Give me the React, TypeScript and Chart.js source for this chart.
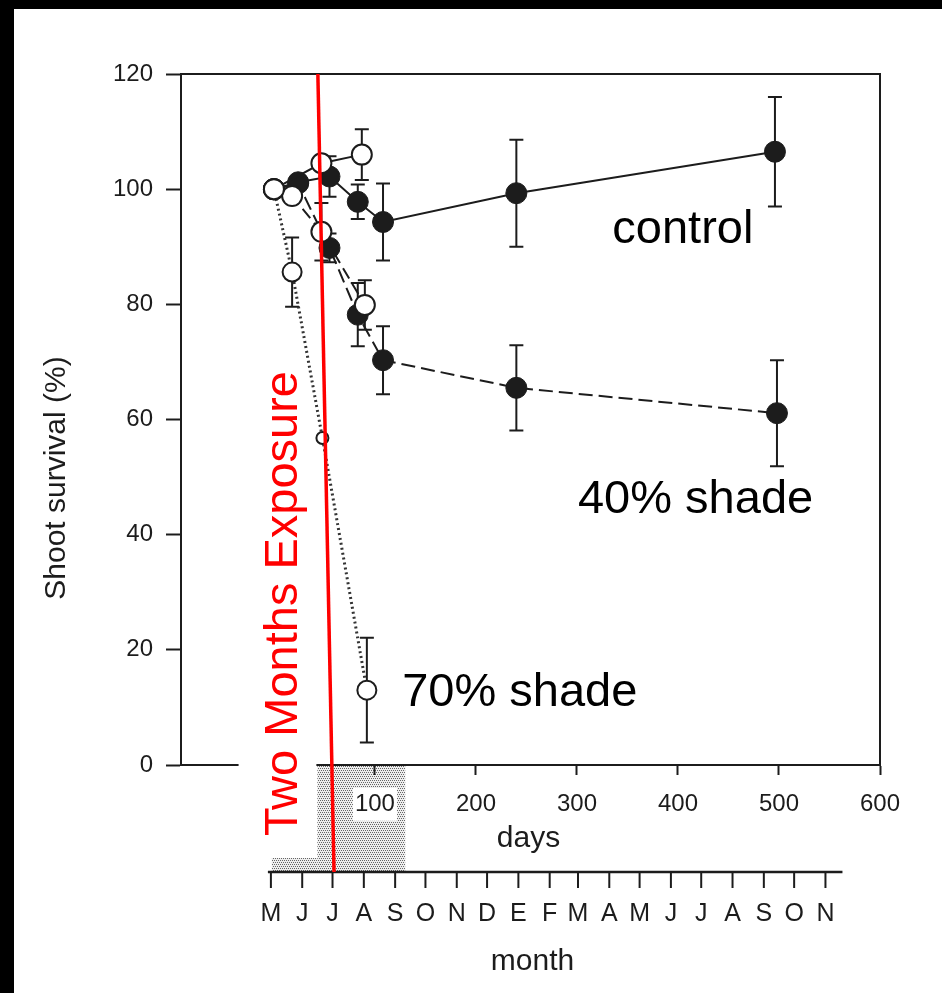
import React, { useEffect, useRef } from 'react';
import { Chart, registerables } from 'chart.js';

Chart.register(...registerables);

// ---- data (days since start, shoot survival %) ----
const controlDays = [0, 24, 55, 83, 108, 240, 496];
const controlValues = [100, 101.2, 102.2, 97.8, 94.3, 99.3, 106.5];
const controlErrors = [0, 0, 3.5, 3, 6.7, 9.3, 9.5];

const shade40Days = [0, 24, 55, 83, 108, 240, 498];
const shade40Values = [100, 101, 89.8, 78.2, 70.3, 65.5, 61.1];
const shade40Errors = [0, 0, 2.5, 5.5, 5.9, 7.4, 9.2];

const openSolidDays = [0, 47, 87];
const openSolidValues = [100, 104.5, 106];
const openSolidErrors = [0, 0, 4.4];

const openDashedDays = [0, 18, 47, 90];
const openDashedValues = [100, 98.8, 92.6, 79.9];
const openDashedErrors = [0, 0, 5, 4.3];

const shade70Days = [0, 18, 48, 92];
const shade70Values = [100, 85.6, 56.8, 13];
const shade70Errors = [0, 6, 0, 9.1];
const shade70Radius = [10, 9.5, 6, 9.5];

const xTickValues = [100, 200, 300, 400, 500, 600];
const yTickStep = 20;

const monthLabels = ['M', 'J', 'J', 'A', 'S', 'O', 'N', 'D', 'E', 'F', 'M', 'A', 'M', 'J', 'J', 'A', 'S', 'O', 'N'];
const monthStartDays = [-3, 28, 58, 89, 120, 150, 181, 211, 242, 273, 301, 332, 362, 393, 423, 454, 485, 515, 546];

// shaded exposure period (days)
const shadeStepStart = -2;
const shadeMainStart = 43;
const shadeMainEnd = 130;

// red "two months exposure" marker line (days at top / bottom)
const exposureTopDay = 43.5;
const exposureBottomDay = 59.5;

const FONT = "'Liberation Sans', Arial, Helvetica, sans-serif";
const INK = '#1c1c1c';

function makePattern(ctx: CanvasRenderingContext2D) {
  const c = document.createElement('canvas');
  c.width = 4;
  c.height = 4;
  const p = c.getContext('2d')!;
  p.fillStyle = '#eeeeee';
  p.fillRect(0, 0, 4, 4);
  p.fillStyle = '#666666';
  p.fillRect(0, 0, 1, 1);
  p.fillRect(2, 0, 1, 1);
  p.fillRect(1, 2, 1, 1);
  p.fillRect(3, 2, 1, 1);
  return ctx.createPattern(c, 'repeat')!;
}

const errorSets = [shade70Errors, openDashedErrors, openSolidErrors, controlErrors, shade40Errors];

const decorPlugin = {
  id: 'decor',
  beforeDraw(chart: any) {
    const { ctx, chartArea, scales } = chart;
    const x = scales.x;
    ctx.save();
    ctx.fillStyle = '#000';
    ctx.fillRect(0, 0, chart.width, chart.height);
    ctx.fillStyle = '#fff';
    ctx.fillRect(14, 9, chart.width - 14, chart.height - 9);
    // shaded exposure period
    const monthY = chartArea.bottom + 107;
    ctx.fillStyle = makePattern(ctx);
    const xs0 = x.getPixelForValue(shadeStepStart);
    const xs1 = x.getPixelForValue(shadeMainStart);
    const xs2 = x.getPixelForValue(shadeMainEnd);
    ctx.fillRect(xs1, chartArea.bottom, xs2 - xs1, monthY - chartArea.bottom);
    ctx.fillRect(xs0, monthY - 14, xs1 - xs0, 14);
    ctx.restore();
  },
  beforeDatasetsDraw(chart: any) {
    const { ctx, scales } = chart;
    const y = scales.y;
    ctx.save();
    ctx.strokeStyle = INK;
    ctx.lineWidth = 2;
    errorSets.forEach((errs, i) => {
      const meta = chart.getDatasetMeta(i);
      const vals = chart.data.datasets[i].data;
      errs.forEach((e: number, j: number) => {
        if (!e) return;
        const px = meta.data[j].x;
        const v = vals[j].y;
        const yt = y.getPixelForValue(v + e);
        const yb = y.getPixelForValue(v - e);
        ctx.beginPath();
        ctx.moveTo(px, yt);
        ctx.lineTo(px, yb);
        ctx.moveTo(px - 7, yt);
        ctx.lineTo(px + 7, yt);
        ctx.moveTo(px - 7, yb);
        ctx.lineTo(px + 7, yb);
        ctx.stroke();
      });
    });
    ctx.restore();
  },
  afterDraw(chart: any) {
    const { ctx, chartArea, scales } = chart;
    const x = scales.x;
    const y = scales.y;
    ctx.save();
    // frame top and right
    ctx.strokeStyle = INK;
    ctx.lineWidth = 2;
    ctx.beginPath();
    ctx.moveTo(chartArea.left, chartArea.top);
    ctx.lineTo(chartArea.right, chartArea.top);
    ctx.lineTo(chartArea.right, chartArea.bottom);
    ctx.stroke();
    // gap in x axis line
    ctx.fillStyle = '#fff';
    const g0 = x.getPixelForValue(-35);
    const g1 = x.getPixelForValue(shadeMainStart);
    ctx.fillRect(g0, chartArea.bottom - 3, g1 - g0 - 1, 6);

    // month axis
    const monthY = chartArea.bottom + 107;
    const m0 = x.getPixelForValue(monthStartDays[0]) - 3;
    const m1 = x.getPixelForValue(monthStartDays[monthStartDays.length - 1]) + 17;
    ctx.strokeStyle = INK;
    ctx.lineWidth = 2.5;
    ctx.beginPath();
    ctx.moveTo(m0, monthY);
    ctx.lineTo(m1, monthY);
    ctx.stroke();
    ctx.lineWidth = 2;
    ctx.fillStyle = INK;
    ctx.font = `25px ${FONT}`;
    ctx.textAlign = 'center';
    ctx.textBaseline = 'middle';
    monthStartDays.forEach((d, i) => {
      const px = x.getPixelForValue(d);
      ctx.beginPath();
      ctx.moveTo(px, monthY);
      ctx.lineTo(px, monthY + 16);
      ctx.stroke();
      ctx.fillText(monthLabels[i], px, monthY + 42);
    });

    // axis titles
    ctx.font = `30px ${FONT}`;
    ctx.fillText('days', (chartArea.left + chartArea.right) / 2 - 2, chartArea.bottom + 74);
    ctx.fillText('month', (chartArea.left + chartArea.right) / 2 + 2, chartArea.bottom + 197);
    ctx.save();
    ctx.translate(57, 478);
    ctx.rotate(-Math.PI / 2);
    ctx.fillText('Shoot survival (%)', 0, 0);
    ctx.restore();

    // series annotations
    ctx.fillStyle = '#000';
    ctx.font = `47px ${FONT}`;
    ctx.textAlign = 'left';
    ctx.textBaseline = 'alphabetic';
    ctx.fillText('control', x.getPixelForValue(335), y.getPixelForValue(90.7));
    ctx.fillText('40% shade', x.getPixelForValue(301), y.getPixelForValue(43.8));
    ctx.fillText('70% shade', x.getPixelForValue(127), y.getPixelForValue(10.2));

    // red exposure line and label
    ctx.strokeStyle = '#ff0000';
    ctx.lineWidth = 3.5;
    ctx.beginPath();
    ctx.moveTo(x.getPixelForValue(exposureTopDay), chartArea.top);
    ctx.lineTo(x.getPixelForValue(exposureBottomDay), monthY);
    ctx.stroke();
    ctx.fillStyle = '#ff0000';
    ctx.save();
    ctx.translate(x.getPixelForValue(22.9), chartArea.bottom + 71);
    ctx.rotate(-Math.PI / 2);
    ctx.fillText('Two Months Exposure', 0, 0);
    ctx.restore();
    ctx.restore();
  },
};

function pts(days: number[], vals: number[]) {
  return days.map((d, i) => ({ x: d, y: vals[i] }));
}

export default function App() {
  const ref = useRef<HTMLCanvasElement | null>(null);
  useEffect(() => {
    if (!ref.current) return;
    const chart = new Chart(ref.current, {
      type: 'scatter',
      data: {
        datasets: [
          {
            label: '70% shade',
            data: pts(shade70Days, shade70Values),
            showLine: true,
            borderColor: '#333',
            borderWidth: 3,
            borderDash: [2, 3],
            pointRadius: shade70Radius,
            pointBackgroundColor: '#fff',
            pointBorderColor: INK,
            pointBorderWidth: 2,
          },
          {
            label: '40% shade (open)',
            data: pts(openDashedDays, openDashedValues),
            showLine: true,
            borderColor: INK,
            borderWidth: 2,
            borderDash: [12, 6],
            pointRadius: 10,
            pointBackgroundColor: '#fff',
            pointBorderColor: INK,
            pointBorderWidth: 2,
          },
          {
            label: 'control (open)',
            data: pts(openSolidDays, openSolidValues),
            showLine: true,
            borderColor: INK,
            borderWidth: 2,
            pointRadius: 10,
            pointBackgroundColor: '#fff',
            pointBorderColor: INK,
            pointBorderWidth: 2,
          },
          {
            label: 'control',
            data: pts(controlDays, controlValues),
            showLine: true,
            borderColor: INK,
            borderWidth: 2,
            pointRadius: 10.5,
            pointBackgroundColor: INK,
            pointBorderColor: INK,
            pointBorderWidth: 1,
          },
          {
            label: '40% shade',
            data: pts(shade40Days, shade40Values),
            showLine: true,
            borderColor: INK,
            borderWidth: 2,
            borderDash: [14, 6],
            pointRadius: 10.5,
            pointBackgroundColor: INK,
            pointBorderColor: INK,
            pointBorderWidth: 1,
          },
        ],
      },
      options: {
        responsive: false,
        animation: false,
        devicePixelRatio: 1,
        layout: { padding: { left: 0, top: 74, right: 62, bottom: 0 } },
        plugins: { legend: { display: false }, tooltip: { enabled: false } },
        scales: {
          x: {
            type: 'linear',
            min: -92,
            max: 600,
            afterBuildTicks: (s: any) => {
              s.ticks = xTickValues.map((v) => ({ value: v }));
            },
            afterFit: (s: any) => {
              s.height = 228;
            },
            grid: { drawOnChartArea: false, drawTicks: true, tickLength: 10, tickColor: INK, tickWidth: 2 },
            border: { display: true, color: INK, width: 2 },
            ticks: {
              color: INK,
              font: { family: FONT, size: 24 },
              padding: 15,
              maxRotation: 0,
              autoSkip: false,
              showLabelBackdrop: true,
              backdropColor: '#fff',
              backdropPadding: 2,
              callback: (v: any) => String(v),
            },
          },
          y: {
            min: 0,
            max: 120,
            afterFit: (s: any) => {
              s.width = 181;
            },
            grid: { drawOnChartArea: false, drawTicks: true, tickLength: 15, tickColor: INK, tickWidth: 2 },
            border: { display: true, color: INK, width: 2 },
            ticks: {
              stepSize: yTickStep,
              color: INK,
              font: { family: FONT, size: 24 },
              padding: 13,
            },
          },
        },
      },
      plugins: [decorPlugin],
    });
    return () => chart.destroy();
  }, []);
  return (
    <div style={{ position: 'fixed', left: 0, top: 0, width: 942, height: 993 }}>
      <canvas ref={ref} width={942} height={993} style={{ display: 'block' }} />
    </div>
  );
}
